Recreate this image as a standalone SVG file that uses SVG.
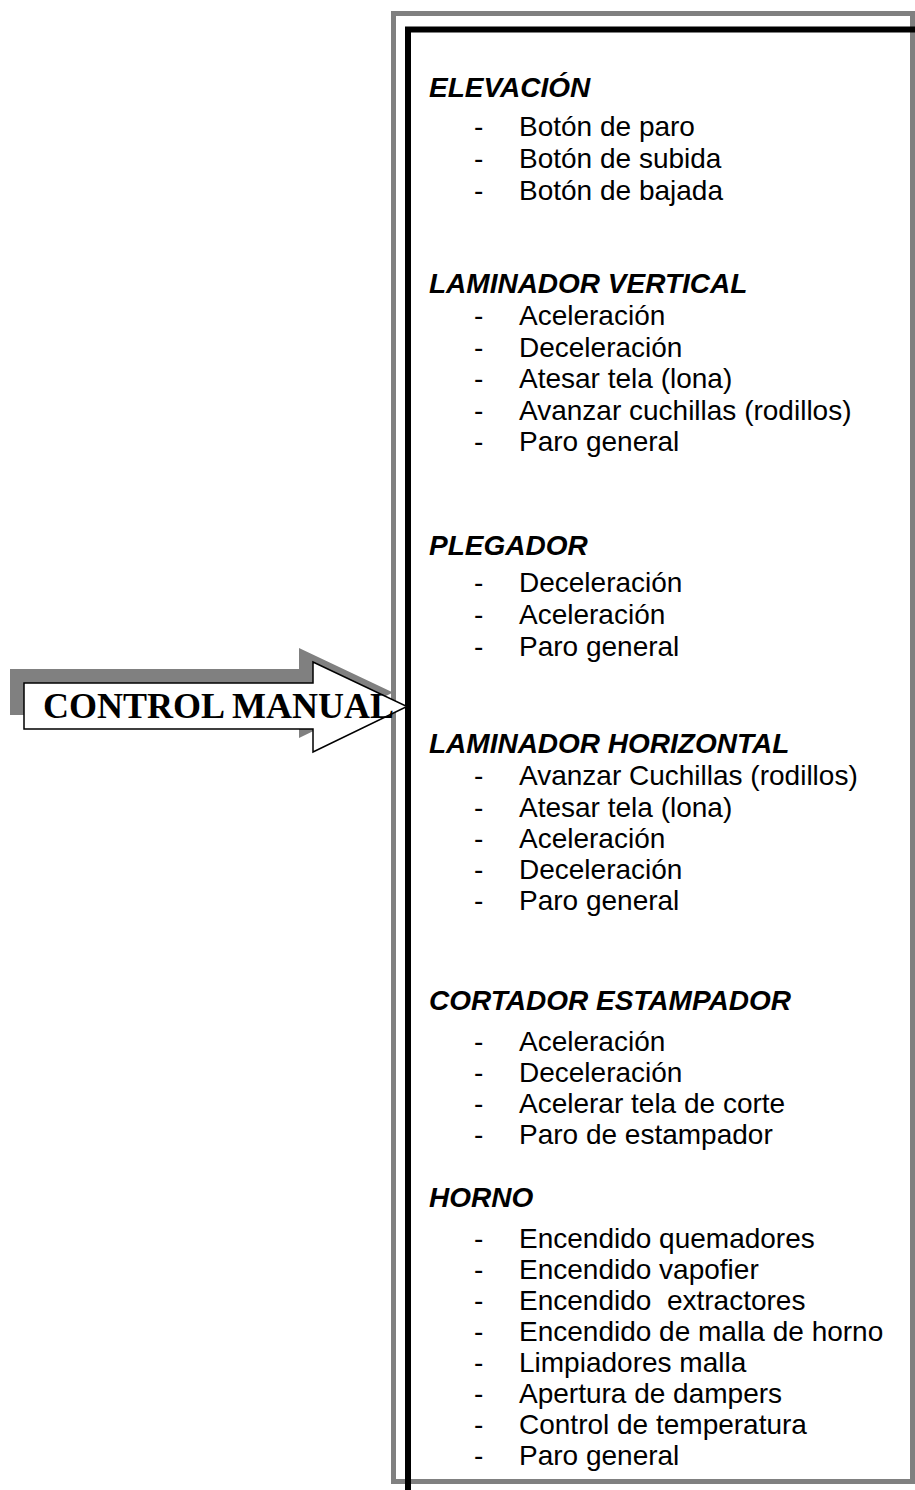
<svg xmlns="http://www.w3.org/2000/svg" width="915" height="1490" viewBox="0 0 915 1490">
  <style>
    .h { font-family: "Liberation Sans", Arial, sans-serif; font-size: 28px; font-weight: bold; font-style: italic; fill: #000; }
    .i { font-family: "Liberation Sans", Arial, sans-serif; font-size: 28px; fill: #000; }
    .d { font-family: "Liberation Sans", Arial, sans-serif; font-size: 28px; fill: #000; }
    .t { font-family: "Liberation Serif", "Times New Roman", serif; font-size: 36px; font-weight: bold; fill: #000; }
  </style>
  <rect x="0" y="0" width="915" height="1490" fill="#fff"/>

  <g id="panel">
    <rect x="393.5" y="13.5" width="519" height="1468" fill="#fff" stroke="#808080" stroke-width="5"/>
    <rect x="408" y="29.5" width="620" height="1600" fill="none" stroke="#000" stroke-width="6"/>
  </g>

  <g id="connectors">
    <polygon points="10,669 299,669 299,648 393,692.5 299,738 299,715 10,715" fill="#808080"/>
    <polygon points="24,683 313,683 313,662 407,706.5 313,752 313,729 24,729" fill="#fff" stroke="#000" stroke-width="1.5"/>
  </g>

  <g id="control-manual">
    <text class="t" x="43" y="718">CONTROL MANUAL</text>
  </g>

  <g id="elevacion">
    <text class="h" x="429" y="97">ELEVACIÓN</text>
    <text class="d" x="474" y="136">-</text><text class="i" x="519" y="136">Botón de paro</text>
    <text class="d" x="474" y="168">-</text><text class="i" x="519" y="168">Botón de subida</text>
    <text class="d" x="474" y="200">-</text><text class="i" x="519" y="200">Botón de bajada</text>
  </g>

  <g id="laminador-vertical">
    <text class="h" x="429" y="293">LAMINADOR VERTICAL</text>
    <text class="d" x="474" y="325">-</text><text class="i" x="519" y="325">Aceleración</text>
    <text class="d" x="474" y="357">-</text><text class="i" x="519" y="357">Deceleración</text>
    <text class="d" x="474" y="388">-</text><text class="i" x="519" y="388">Atesar tela (lona)</text>
    <text class="d" x="474" y="420">-</text><text class="i" x="519" y="420">Avanzar cuchillas (rodillos)</text>
    <text class="d" x="474" y="451">-</text><text class="i" x="519" y="451">Paro general</text>
  </g>

  <g id="plegador">
    <text class="h" x="429" y="555">PLEGADOR</text>
    <text class="d" x="474" y="592">-</text><text class="i" x="519" y="592">Deceleración</text>
    <text class="d" x="474" y="624">-</text><text class="i" x="519" y="624">Aceleración</text>
    <text class="d" x="474" y="656">-</text><text class="i" x="519" y="656">Paro general</text>
  </g>

  <g id="laminador-horizontal">
    <text class="h" x="429" y="753">LAMINADOR HORIZONTAL</text>
    <text class="d" x="474" y="785">-</text><text class="i" x="519" y="785">Avanzar Cuchillas (rodillos)</text>
    <text class="d" x="474" y="817">-</text><text class="i" x="519" y="817">Atesar tela (lona)</text>
    <text class="d" x="474" y="848">-</text><text class="i" x="519" y="848">Aceleración</text>
    <text class="d" x="474" y="879">-</text><text class="i" x="519" y="879">Deceleración</text>
    <text class="d" x="474" y="910">-</text><text class="i" x="519" y="910">Paro general</text>
  </g>

  <g id="cortador-estampador">
    <text class="h" x="429" y="1010">CORTADOR ESTAMPADOR</text>
    <text class="d" x="474" y="1051">-</text><text class="i" x="519" y="1051">Aceleración</text>
    <text class="d" x="474" y="1082">-</text><text class="i" x="519" y="1082">Deceleración</text>
    <text class="d" x="474" y="1113">-</text><text class="i" x="519" y="1113">Acelerar tela de corte</text>
    <text class="d" x="474" y="1144">-</text><text class="i" x="519" y="1144">Paro de estampador</text>
  </g>

  <g id="horno">
    <text class="h" x="429" y="1207">HORNO</text>
    <text class="d" x="474" y="1248">-</text><text class="i" x="519" y="1248">Encendido quemadores</text>
    <text class="d" x="474" y="1279">-</text><text class="i" x="519" y="1279">Encendido vapofier</text>
    <text class="d" x="474" y="1310">-</text><text class="i" x="519" y="1310" xml:space="preserve">Encendido  extractores</text>
    <text class="d" x="474" y="1341">-</text><text class="i" x="519" y="1341">Encendido de malla de horno</text>
    <text class="d" x="474" y="1372">-</text><text class="i" x="519" y="1372">Limpiadores malla</text>
    <text class="d" x="474" y="1403">-</text><text class="i" x="519" y="1403">Apertura de dampers</text>
    <text class="d" x="474" y="1434">-</text><text class="i" x="519" y="1434">Control de temperatura</text>
    <text class="d" x="474" y="1465">-</text><text class="i" x="519" y="1465">Paro general</text>
  </g>
</svg>
